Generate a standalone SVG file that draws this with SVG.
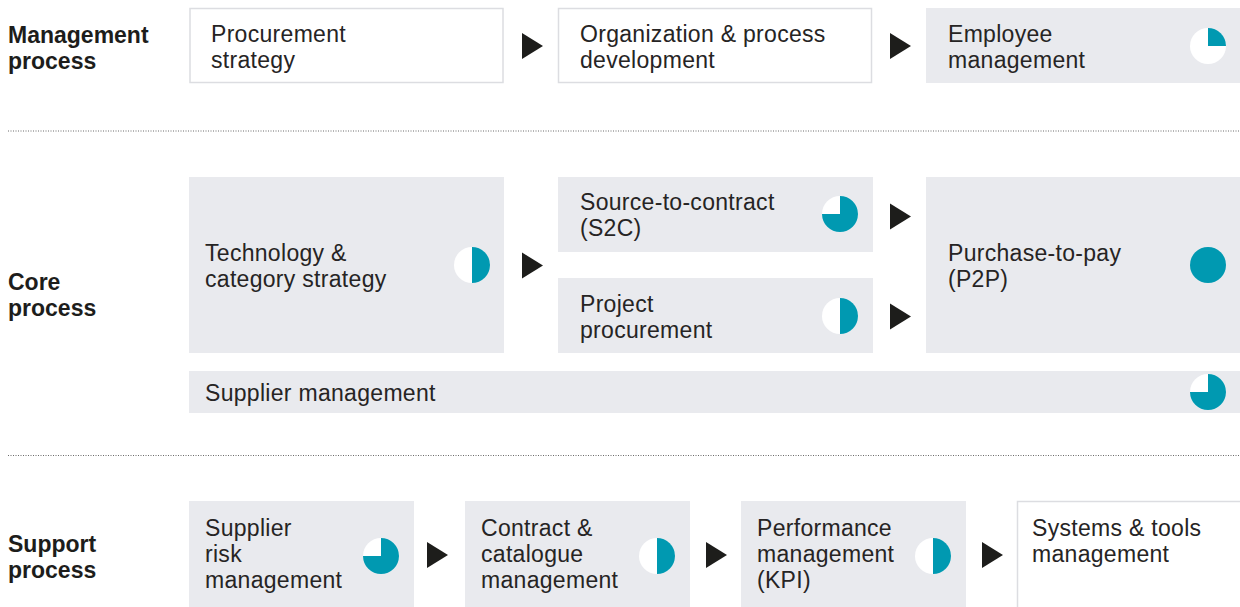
<svg xmlns="http://www.w3.org/2000/svg" width="1240" height="607" viewBox="0 0 1240 607">
<style>
.lbl{font-family:"Liberation Sans",Arial,sans-serif;font-size:23px;font-weight:bold;fill:#1d1d1b}
.t{font-family:"Liberation Sans",Arial,sans-serif;font-size:23px;fill:#262424;letter-spacing:0.3px}
.g{fill:#e9eaee}
.w{fill:#ffffff;stroke:#dcdde1;stroke-width:1.5}
.pb{fill:#ffffff}
.pf{fill:#0099b1}
.arr{fill:#1d1d1b}
.dot{stroke:#6b6b6b;stroke-width:1;stroke-dasharray:1 1.5;fill:none}
</style>
<defs>
<g id="pie-q"><circle class="pb" r="18"/><path class="pf" d="M0 0 L0 -18 A18 18 0 0 1 18 0 Z"/></g>
<g id="pie-h"><circle class="pb" r="18"/><path class="pf" d="M0 -18 A18 18 0 0 1 0 18 Z"/></g>
<g id="pie-t"><circle class="pb" r="18"/><path class="pf" d="M0 0 L0 -18 A18 18 0 1 1 -18 0 Z"/></g>
<g id="pie-f"><circle class="pf" r="18"/></g>
</defs>
<rect width="1240" height="607" fill="#ffffff"/>
<g id="section-labels">
<text class="lbl" x="8" y="43">Management</text>
<text class="lbl" x="8" y="69">process</text>
<text class="lbl" x="8" y="290">Core</text>
<text class="lbl" x="8" y="316">process</text>
<text class="lbl" x="8" y="552">Support</text>
<text class="lbl" x="8" y="578">process</text>
</g>
<g id="dividers">
<line class="dot" x1="8" y1="131" x2="1240" y2="131"/>
<line class="dot" x1="8" y1="455.5" x2="1240" y2="455.5"/>
</g>
<g id="node-procurement-strategy">
<rect class="w" x="190" y="8.5" width="313" height="74"/>
<text class="t" x="211" y="42">Procurement</text>
<text class="t" x="211" y="68">strategy</text>
</g>
<g id="node-org-process">
<rect class="w" x="558.5" y="8.5" width="313" height="74"/>
<text class="t" x="580" y="42">Organization &amp; process</text>
<text class="t" x="580" y="68">development</text>
</g>
<g id="node-employee">
<rect class="g" x="926" y="8" width="314" height="75"/>
<text class="t" x="948" y="42">Employee</text>
<text class="t" x="948" y="68">management</text>
<use href="#pie-q" x="1208" y="46"/>
</g>
<g id="node-technology">
<rect class="g" x="189" y="177" width="315" height="176"/>
<text class="t" x="205" y="261">Technology &amp;</text>
<text class="t" x="205" y="287">category strategy</text>
<use href="#pie-h" x="472" y="265"/>
</g>
<g id="node-s2c">
<rect class="g" x="558" y="177" width="315" height="75"/>
<text class="t" x="580" y="210">Source-to-contract</text>
<text class="t" x="580" y="236">(S2C)</text>
<use href="#pie-t" x="840" y="214"/>
</g>
<g id="node-project">
<rect class="g" x="558" y="278" width="315" height="75"/>
<text class="t" x="580" y="312">Project</text>
<text class="t" x="580" y="338">procurement</text>
<use href="#pie-h" x="840" y="316"/>
</g>
<g id="node-p2p">
<rect class="g" x="926" y="177" width="314" height="176"/>
<text class="t" x="948" y="261">Purchase-to-pay</text>
<text class="t" x="948" y="287">(P2P)</text>
<use href="#pie-f" x="1208" y="265"/>
</g>
<g id="node-supplier-management">
<rect class="g" x="189" y="371" width="1051" height="42"/>
<text class="t" x="205" y="401">Supplier management</text>
<use href="#pie-t" x="1208" y="392"/>
</g>
<g id="node-supplier-risk">
<rect class="g" x="189" y="501" width="225" height="106"/>
<text class="t" x="205" y="536">Supplier</text>
<text class="t" x="205" y="562">risk</text>
<text class="t" x="205" y="588">management</text>
<use href="#pie-t" x="381" y="556"/>
</g>
<g id="node-contract">
<rect class="g" x="465" y="501" width="225" height="106"/>
<text class="t" x="481" y="536">Contract &amp;</text>
<text class="t" x="481" y="562">catalogue</text>
<text class="t" x="481" y="588">management</text>
<use href="#pie-h" x="657" y="556"/>
</g>
<g id="node-performance">
<rect class="g" x="741" y="501" width="225" height="106"/>
<text class="t" x="757" y="536">Performance</text>
<text class="t" x="757" y="562">management</text>
<text class="t" x="757" y="588">(KPI)</text>
<use href="#pie-h" x="933" y="556"/>
</g>
<g id="node-systems">
<rect class="w" x="1017.5" y="501.5" width="224" height="110"/>
<text class="t" x="1032" y="536">Systems &amp; tools</text>
<text class="t" x="1032" y="562">management</text>
</g>
<g id="connectors">
<polygon class="arr" points="522,33 543,46 522,59"/>
<polygon class="arr" points="890,33 911,46 890,59"/>
<polygon class="arr" points="522,252.5 543,265.5 522,278.5"/>
<polygon class="arr" points="890,203.5 911,216.5 890,229.5"/>
<polygon class="arr" points="890,303.5 911,316.5 890,329.5"/>
<polygon class="arr" points="427,542 448,555 427,568"/>
<polygon class="arr" points="706,542 727,555 706,568"/>
<polygon class="arr" points="982,542 1003,555 982,568"/>
</g>
</svg>
